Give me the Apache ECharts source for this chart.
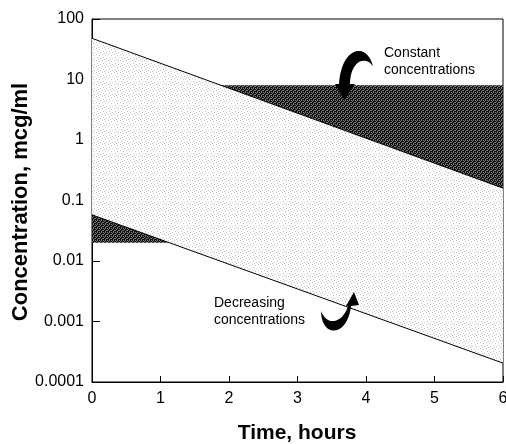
<!DOCTYPE html>
<html>
<head>
<meta charset="utf-8">
<script src="https://cdn.jsdelivr.net/npm/echarts@6/dist/echarts.min.js"></script>
<style>
  html, body { margin: 0; padding: 0; background: #fff; }
  #chart { width: 506px; height: 444px; }
</style>
</head>
<body>
<div id="chart"></div>
<script>
// data
var xTicks = [0, 1, 2, 3, 4, 5, 6];
var yTickLabels = ['0.0001', '0.001', '0.01', '0.1', '1', '10', '100'];
var upperLine = [[0, 48], [6, 0.16]];        // higher dose decay
var lowerLine = [[0, 0.058], [6, 0.000205]]; // lower dose decay
var upperLimit = 8;    // constant concentration, top band
var lowerLimit = 0.02; // constant concentration, bottom band

// x where a (log-linear) line reaches a given level
function crossAt(line, level) {
    var a = Math.log10(line[0][1]), b = Math.log10(line[1][1]);
    var t = (Math.log10(level) - a) / (b - a);
    return line[0][0] + t * (line[1][0] - line[0][0]);
}

var xUp = crossAt(upperLine, upperLimit);
var xLow = crossAt(lowerLine, lowerLimit);

var lightArea = [upperLine[0], upperLine[1], lowerLine[1], lowerLine[0]];
var darkTop = [[xUp, upperLimit], [upperLine[1][0], upperLimit], upperLine[1]];
var darkBottom = [lowerLine[0], [xLow, lowerLimit], [lowerLine[0][0], lowerLimit]];

// stipple textures
function makePattern(size, bg, dots, dotColor) {
    var c = document.createElement('canvas');
    c.width = size; c.height = size;
    var ctx = c.getContext('2d');
    ctx.fillStyle = bg;
    ctx.fillRect(0, 0, size, size);
    ctx.fillStyle = dotColor;
    dots.forEach(function (d) { ctx.fillRect(d[0], d[1], 1, 1); });
    return { image: c, repeat: 'repeat' };
}
var lightFill = makePattern(6, '#ffffff', [[0, 0], [3, 1], [1, 3], [4, 4], [2, 5]], '#c4c4c4');
var darkFill = makePattern(4, '#111111', [[1, 0], [3, 0], [0, 1], [2, 2], [1, 3], [3, 2]], '#7a7a7a');

// curved arrow outline: start point, then [cubic c1, c2, end] or [straight point]
function outline(start, segs) {
    var pts = [start], cur = start;
    segs.forEach(function (s) {
        if (s.length === 1) { pts.push(s[0]); cur = s[0]; return; }
        for (var i = 1; i <= 12; i++) {
            var t = i / 12, u = 1 - t;
            pts.push([
                u * u * u * cur[0] + 3 * u * u * t * s[0][0] + 3 * u * t * t * s[1][0] + t * t * t * s[2][0],
                u * u * u * cur[1] + 3 * u * u * t * s[0][1] + 3 * u * t * t * s[1][1] + t * t * t * s[2][1]
            ]);
        }
        cur = s[2];
    });
    return pts;
}

var arrowConstant = outline([373, 67], [
    [[371, 56], [364, 50], [357, 51]],
    [[347, 53], [340, 66], [339, 84]],
    [[335, 84]], [[344, 100]], [[355, 84]], [[350, 84]],
    [[350, 74], [353, 66], [359, 62]],
    [[365, 59], [371, 62], [373, 67]]
]);
var arrowDecreasing = outline([321, 311], [
    [[321, 327], [331, 335], [341, 328]],
    [[347, 323], [350, 315], [351, 306]],
    [[359, 305]], [[354, 292]], [[346, 306]], [[348, 306]],
    [[345, 316], [338, 322], [331, 321]],
    [[326, 320], [323, 316], [321, 311]]
]);

function polygonSeries(points, fill) {
    return {
        type: 'custom',
        silent: true,
        data: [0],
        renderItem: function (params, api) {
            return {
                type: 'polygon',
                shape: { points: points.map(function (p) { return api.coord(p); }) },
                style: { fill: fill, stroke: null }
            };
        }
    };
}

function lineSeries(data) {
    return {
        type: 'line',
        data: data,
        symbol: 'none',
        silent: true,
        lineStyle: { color: '#000', width: 1 },
        z: 5
    };
}

var chart = echarts.init(document.getElementById('chart'));
var option = {
    animation: false,
    grid: {
        left: 92, right: 3, top: 19, bottom: 62,
        outerBoundsMode: 'none',
        containLabel: false,
        show: true, borderColor: '#000', borderWidth: 1
    },
    xAxis: {
        type: 'value',
        min: 0, max: 6, interval: 1,
        axisLine: { lineStyle: { color: '#000' } },
        axisTick: { inside: true, length: 6, lineStyle: { color: '#000' } },
        axisLabel: {
            color: '#000', fontSize: 16, margin: 9,
            fontFamily: 'Liberation Sans',
            formatter: function (v) { return xTicks.indexOf(v) >= 0 ? String(v) : ''; }
        },
        splitLine: { show: false }
    },
    yAxis: {
        type: 'log',
        logBase: 10,
        min: 0.0001, max: 100,
        splitNumber: 6,
        axisLine: { show: true, lineStyle: { color: '#000' } },
        axisTick: { show: true, inside: true, length: 8, lineStyle: { color: '#000' } },
        axisLabel: {
            color: '#000', fontSize: 16, margin: 8,
            fontFamily: 'Liberation Sans',
            formatter: function (v) {
                var i = Math.round(Math.log10(v)) + 4;
                return yTickLabels[i] || '';
            }
        },
        splitLine: { show: false }
    },
    series: [
        polygonSeries(lightArea, lightFill),
        polygonSeries(darkTop, darkFill),
        polygonSeries(darkBottom, darkFill),
        lineSeries(upperLine),
        lineSeries(lowerLine)
    ],
    graphic: [
        {
            type: 'text', left: 384, top: 45, silent: true,
            style: {
                text: 'Constant\nconcentrations', fill: '#000',
                font: '14px "Liberation Sans"', lineHeight: 17
            }
        },
        {
            type: 'text', left: 214, top: 295, silent: true,
            style: {
                text: 'Decreasing\nconcentrations', fill: '#000',
                font: '14px "Liberation Sans"', lineHeight: 17
            }
        },
        {
            type: 'polygon', silent: true, z: 10,
            shape: { points: arrowConstant },
            style: { fill: '#000' }
        },
        {
            type: 'polygon', silent: true, z: 10,
            shape: { points: arrowDecreasing },
            style: { fill: '#000' }
        },
        {
            type: 'text', x: 297, y: 433, silent: true,
            style: {
                text: 'Time, hours', fill: '#000',
                font: 'bold 21px "Liberation Sans"',
                align: 'center', verticalAlign: 'middle'
            }
        },
        {
            type: 'text', x: 21, y: 202, rotation: Math.PI / 2, silent: true,
            style: {
                text: 'Concentration, mcg/ml', fill: '#000',
                font: 'bold 22px "Liberation Sans"',
                align: 'center', verticalAlign: 'middle'
            }
        }
    ]
};
chart.setOption(option);
</script>
</body>
</html>
